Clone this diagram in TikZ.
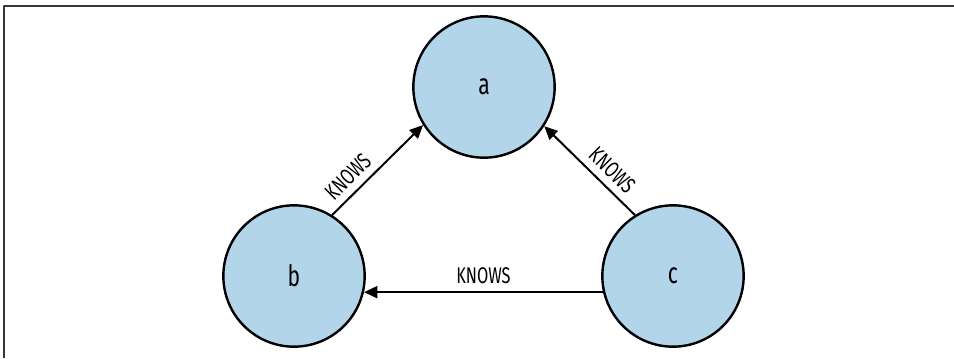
\documentclass[tikz,border=0pt]{standalone}
\usepackage{fontspec}
\setmainfont{Fira Sans}[FakeStretch=0.72]
\usetikzlibrary{arrows.meta}
\definecolor{nodeblue}{RGB}{179,213,234}
\definecolor{framegray}{RGB}{55,55,55}
\tikzset{
	person/.style={circle, draw, line width=1.8pt, fill=nodeblue, minimum size=106pt, inner sep=0pt, font=\fontsize{22}{22}\selectfont},
	knows/.style={-{Triangle[length=10pt,width=9pt]}, line width=1.5pt},
	rel/.style={sloped, above=2pt, font=\fontsize{17}{17}\selectfont}
}
\begin{document}
\begin{tikzpicture}[x=0.75pt, y=-0.75pt, line join=round]
		\useasboundingbox (0,0) rectangle (954,358);
		\draw[framegray, line width=1.5pt] (4,358)--(4,6)--(954,6);
		\node[person] (a) at (484,87) {a};
		\node[person] (b) at (294,276) {b};
		\node[person] (c) at (673,276) {c};
		\draw[knows] (b.58)--(a.212) node[rel, pos=.3]{KNOWS};
		\draw[knows] (c.122)--(a.327) node[rel, pos=.375]{KNOWS};
		\draw[knows] (c.193)--(b.347) node[rel, pos=.5]{KNOWS};
	\end{tikzpicture}
\end{document}
